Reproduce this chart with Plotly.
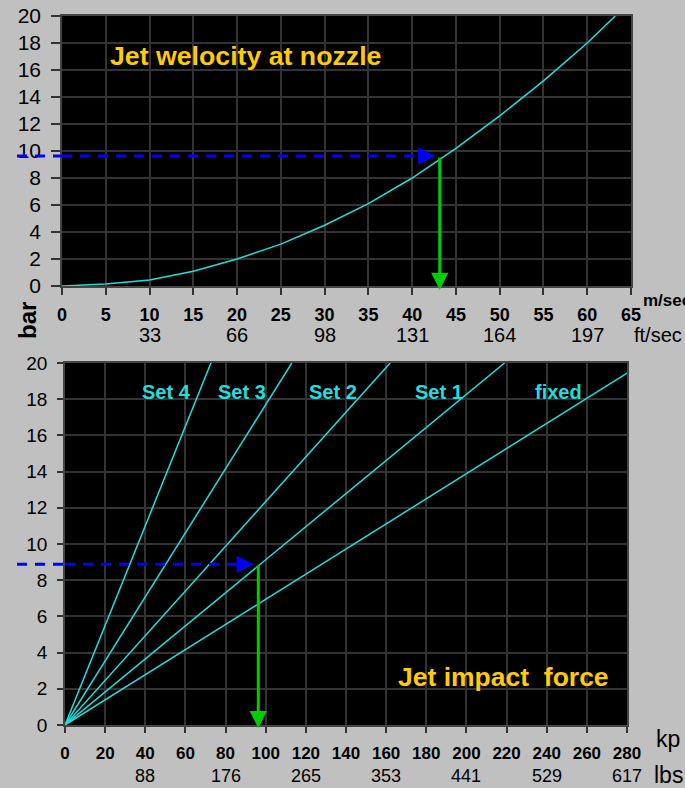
import plotly.graph_objects as go

# ---------------- data ----------------
# top chart: jet velocity (m/s) vs pressure (bar)
top_velocity_ms = [0, 5, 10, 15, 20, 25, 30, 35, 40, 45, 50, 55, 60, 63.2]
top_pressure_bar = [0, 0.15, 0.45, 1.1, 2.0, 3.1, 4.5, 6.1, 8.0, 10.2, 12.6, 15.2, 18.0, 20.0]
top_x_ticks = [0, 5, 10, 15, 20, 25, 30, 35, 40, 45, 50, 55, 60, 65]
top_ft_ticks_ms = [10, 20, 30, 40, 50, 60]
top_ft_labels = ["33", "66", "98", "131", "164", "197"]
top_read_pressure = 9.63
top_read_velocity = 43.15

# bottom chart: jet impact force (kp) vs pressure (bar)
bottom_pressure_bar = [0, 20]
set4_force_kp = [0, 72.7]
set3_force_kp = [0, 113]
set2_force_kp = [0, 162]
set1_force_kp = [0, 219]
fixed_force_kp = [0, 288]
series_names = ["Set 4", "Set 3", "Set 2", "Set 1", "fixed"]
series_label_x = [50.8, 88, 133.7, 186.3, 245.7]
series_label_y = 18.4
bottom_x_ticks = [0, 20, 40, 60, 80, 100, 120, 140, 160, 180, 200, 220, 240, 260, 280]
bottom_lbs_ticks_kp = [40, 80, 120, 160, 200, 240, 280]
bottom_lbs_labels = ["88", "176", "265", "353", "441", "529", "617"]
bottom_read_pressure = 8.88
bottom_read_force = 96.3

y_ticks = [0, 2, 4, 6, 8, 10, 12, 14, 16, 18, 20]

# ---------------- style ----------------
W, H = 685, 788
BG = "#C0C0C0"
CYAN = "#22DDDD"
GOLD = "#FFCC00"
BLUE = "#0000FF"
GREEN = "#00CC00"
GRID = "#333333"
FONT = "Arial, Liberation Sans, sans-serif"


def fx(p):
    return p / W


def fy(p):
    return 1 - p / H


fig = go.Figure()

fig.add_trace(go.Scatter(x=top_velocity_ms, y=top_pressure_bar, mode="lines",
                         line=dict(color=CYAN, width=1.5), xaxis="x", yaxis="y",
                         hoverinfo="skip", showlegend=False))

for force in [set4_force_kp, set3_force_kp, set2_force_kp, set1_force_kp, fixed_force_kp]:
    fig.add_trace(go.Scatter(x=force, y=bottom_pressure_bar, mode="lines",
                             line=dict(color=CYAN, width=1.5), xaxis="x2", yaxis="y2",
                             hoverinfo="skip", showlegend=False))

# blue dashed reading lines (inside plot)
fig.add_trace(go.Scatter(x=[0, top_read_velocity - 1.9], y=[top_read_pressure, top_read_pressure],
                         mode="lines", line=dict(color=BLUE, width=3, dash="10px,8px"),
                         xaxis="x", yaxis="y", hoverinfo="skip", showlegend=False))
fig.add_trace(go.Scatter(x=[0, bottom_read_force - 8], y=[bottom_read_pressure, bottom_read_pressure],
                         mode="lines", line=dict(color=BLUE, width=3, dash="10px,8px"),
                         xaxis="x2", yaxis="y2", hoverinfo="skip", showlegend=False))

axis_common = dict(showgrid=True, gridcolor=GRID, gridwidth=1.5, zeroline=False,
                   showline=True, linecolor="#444444", linewidth=1.5, mirror=True,
                   ticks="outside", tickcolor="#333333", tickwidth=1.5, fixedrange=True,
                   automargin=False)

top_x_dom = [fx(62), fx(631)]
top_y_dom = [fy(286), fy(16)]
bot_x_dom = [fx(65), fx(627)]
bot_y_dom = [fy(725), fy(363)]

fig.update_layout(
    width=W, height=H, paper_bgcolor=BG, plot_bgcolor="#000000",
    margin=dict(l=0, r=0, t=0, b=0, pad=0), autosize=False,
    font=dict(family=FONT, color="#000000"),
    xaxis=dict(domain=top_x_dom, anchor="y", range=[0, 65], tickmode="array",
               tickvals=top_x_ticks, ticklen=7, ticklabelstandoff=5,
               tickfont=dict(size=18, weight="bold"), **axis_common),
    yaxis=dict(domain=top_y_dom, anchor="x", range=[0, 20], tickmode="array",
               tickvals=y_ticks, ticklen=9, ticklabelstandoff=6,
               tickfont=dict(size=21), **axis_common),
    xaxis2=dict(domain=bot_x_dom, anchor="y2", range=[0, 280], tickmode="array",
                tickvals=bottom_x_ticks, ticklen=6, ticklabelstandoff=6,
                tickfont=dict(size=17, weight="bold"), **axis_common),
    yaxis2=dict(domain=bot_y_dom, anchor="x2", range=[0, 20], tickmode="array",
                tickvals=y_ticks, ticklen=6, ticklabelstandoff=6,
                tickfont=dict(size=19), **axis_common),
)

ann = []
# titles
ann.append(dict(text="Jet welocity at nozzle", x=21.0, y=17.0, xref="x", yref="y",
                showarrow=False, font=dict(size=26.7, color=GOLD, weight="bold")))
ann.append(dict(text="Jet impact&nbsp; force", x=218.5, y=2.65, xref="x2", yref="y2",
                showarrow=False, font=dict(size=26.5, color=GOLD, weight="bold")))
# series labels
for name, lx in zip(series_names, series_label_x):
    ann.append(dict(text=name, x=lx, y=series_label_y, xref="x2", yref="y2",
                    showarrow=False, font=dict(size=20, color=CYAN, weight="bold")))
# secondary unit rows
for v, t in zip(top_ft_ticks_ms, top_ft_labels):
    ann.append(dict(text=t, x=v, xref="x", y=fy(335), yref="paper", yanchor="middle",
                    showarrow=False, font=dict(size=20)))
for v, t in zip(bottom_lbs_ticks_kp, bottom_lbs_labels):
    ann.append(dict(text=t, x=v, xref="x2", y=fy(776), yref="paper", yanchor="middle",
                    showarrow=False, font=dict(size=18)))
# unit labels
ann.append(dict(text="m/sec", x=fx(641), y=fy(301), xref="paper", yref="paper",
                xanchor="left", yanchor="middle", showarrow=False,
                font=dict(size=17, weight="bold")))
ann.append(dict(text="ft/sec", x=fx(632), y=fy(335), xref="paper", yref="paper",
                xanchor="left", yanchor="middle", showarrow=False, font=dict(size=20)))
ann.append(dict(text="kp", x=fx(654), y=fy(739), xref="paper", yref="paper",
                xanchor="left", yanchor="middle", showarrow=False, font=dict(size=23)))
ann.append(dict(text="lbs", x=fx(652), y=fy(775), xref="paper", yref="paper",
                xanchor="left", yanchor="middle", showarrow=False, font=dict(size=23)))
ann.append(dict(text="bar", x=fx(27), y=fy(321), xref="paper", yref="paper",
                xanchor="center", yanchor="middle",
                textangle=-90, showarrow=False, font=dict(size=24, weight="bold")))

# arrows
ann.append(dict(text="", x=top_read_velocity - 0.5, y=top_read_pressure, xref="x", yref="y",
                ax=top_read_velocity - 1.9, ay=top_read_pressure, axref="x", ayref="y",
                showarrow=True, arrowhead=2, arrowsize=1.15, arrowwidth=3, arrowcolor=BLUE))
ann.append(dict(text="", x=top_read_velocity, y=-0.3, xref="x", yref="y",
                ax=top_read_velocity, ay=top_read_pressure, axref="x", ayref="y",
                showarrow=True, arrowhead=2, arrowsize=1.15, arrowwidth=3, arrowcolor=GREEN))
ann.append(dict(text="", x=bottom_read_force - 2.2, y=bottom_read_pressure, xref="x2", yref="y2",
                ax=bottom_read_force - 8, ay=bottom_read_pressure, axref="x2", ayref="y2",
                showarrow=True, arrowhead=2, arrowsize=1.15, arrowwidth=3, arrowcolor=BLUE))
ann.append(dict(text="", x=bottom_read_force, y=-0.18, xref="x2", yref="y2",
                ax=bottom_read_force, ay=bottom_read_pressure, axref="x2", ayref="y2",
                showarrow=True, arrowhead=2, arrowsize=1.15, arrowwidth=3, arrowcolor=GREEN))
fig.update_layout(annotations=ann)

# dashed lead-in outside the plot areas
fig.add_shape(type="line", xref="paper", yref="y", x0=fx(17), x1=top_x_dom[0],
              y0=top_read_pressure, y1=top_read_pressure,
              line=dict(color=BLUE, width=3, dash="10px,8px"), layer="above")
fig.add_shape(type="line", xref="paper", yref="y2", x0=fx(17), x1=bot_x_dom[0],
              y0=bottom_read_pressure, y1=bottom_read_pressure,
              line=dict(color=BLUE, width=3, dash="10px,8px"), layer="above")

fig.write_html("out.html", config={"displayModeBar": False},
               post_script="document.body.style.margin='0';")
